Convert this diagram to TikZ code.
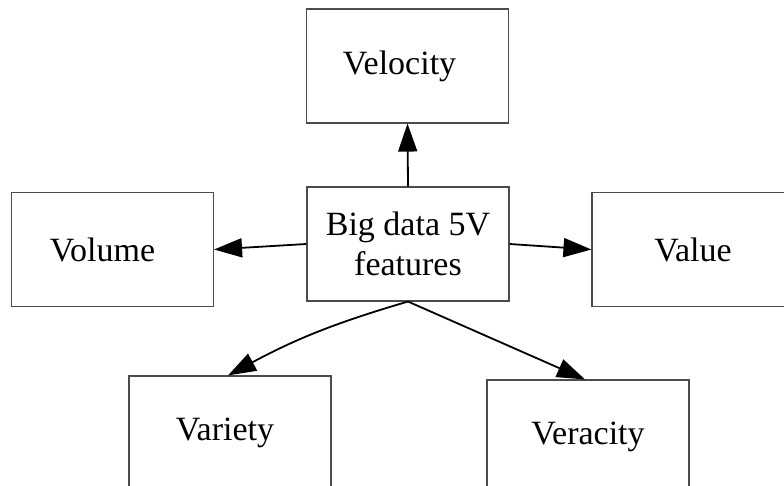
\documentclass[tikz,border=0pt]{standalone}
\usepackage{fontspec}
\setmainfont{Liberation Serif}
\usetikzlibrary{arrows.meta}

\tikzset{
  vbox/.style={draw=black!70, line width=1.1pt, fill=white,
    minimum width=202pt, minimum height=114pt, inner sep=0pt,
    align=center, font=\fontsize{34}{40}\selectfont},
  link/.style={line width=1.8pt, -{Triangle[length=28pt,width=19pt]}}
}

\begin{document}
\begin{tikzpicture}[x=1pt,y=-1pt]
  \useasboundingbox (0,0) rectangle (784,486);
  \clip (0,0) rectangle (784,486);

  % central topic and the five features
  \node[vbox] (core)     at (408,244)   {Big data 5V\\features};
  \node[vbox] (velocity) at (407.5,66)  {\hspace*{-16pt}Velocity};
  \node[vbox] (volume)   at (112.5,249.5) {\hspace*{-20pt}Volume};
  \node[vbox] (value)    at (693,249.5) {Value};
  \node[vbox] (variety)  at (230,433)   {\hspace*{-10pt}Variety};
  \node[vbox] (veracity) at (588,437)   {Veracity};

  % connectors from the centre outwards
  \draw[link] (core.north) -- (velocity.south);
  \draw[link] (core.west)  -- (volume.east);
  \draw[link] (core.east)  -- (value.west);
  \draw[link] (core.south) to[bend right=6] ([xshift=-2pt]variety.north);
  \draw[link] (core.south) -- ([xshift=-3pt]veracity.north);
\end{tikzpicture}
\end{document}
